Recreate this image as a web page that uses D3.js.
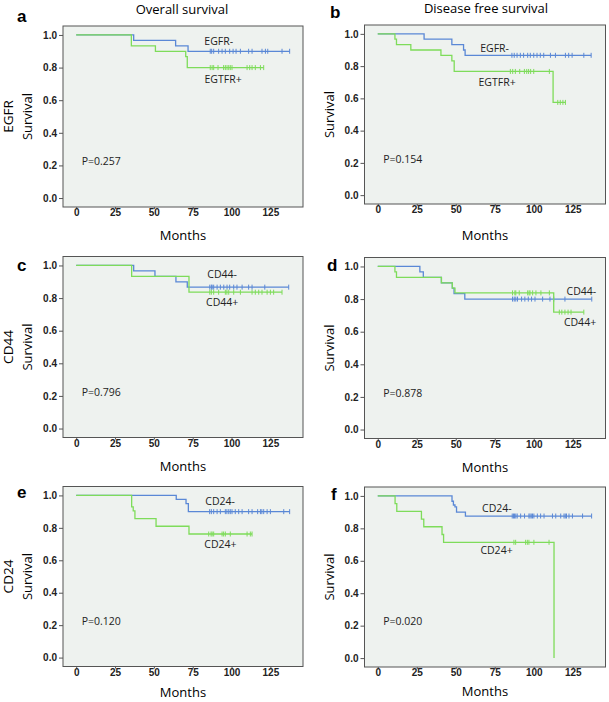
<!DOCTYPE html>
<html>
<head>
<meta charset="utf-8">
<script src="https://cdn.jsdelivr.net/npm/d3@7"></script>
<style>
  body { margin: 0; background: #fff; }
  svg  { display: block; font-family: "Open Sans", sans-serif; }
</style>
</head>
<body>
<script>
/* ---- data ---------------------------------------------------------- */
const monthTicks   = [0, 25, 50, 75, 100, 125];
const survTicks    = [0, 0.2, 0.4, 0.6, 0.8, 1.0];
const panelLetters = ["a", "b", "c", "d", "e", "f"];
const columnTitles = ["Overall survival", "Disease free survival"];
const markerNames  = ["EGFR", "CD44", "CD24"];
const pValues      = ["P=0.257", "P=0.154", "P=0.796", "P=0.878", "P=0.120", "P=0.020"];
const negLabels    = ["EGFR-", "EGFR-", "CD44-", "CD44-", "CD24-", "CD24-"];
const posLabels    = ["EGTFR+", "EGTFR+", "CD44+", "CD44+", "CD24+", "CD24+"];

// [month, survival after drop]
const osEgfrNegSteps  = [[37, 0.967], [64, 0.933], [72, 0.90]];
const osEgfrNegCens   = [86.3, 87.2, 88.5, 91.7, 93.9, 96, 98.8, 101, 102.9, 105.7, 111, 113.2, 119.6, 121.8, 123.3, 132.5, 137.4];
const osEgfrPosSteps  = [[35.5, 0.933], [51, 0.90], [70.5, 0.867], [71.5, 0.80]];
const osEgfrPosCens   = [86.3, 87.5, 88.5, 91.3, 94.9, 96, 97.1, 98.2, 99.2, 100.3, 110, 111.7, 113.2, 115.3, 118.6, 120.7];

const dfsEgfrNegSteps = [[29.7, 0.967], [47.5, 0.933], [55, 0.90], [56, 0.867]];
const dfsEgfrNegCens  = [86, 87.5, 89.3, 91.4, 93.5, 96.1, 97.8, 100, 102.1, 104.2, 106.4, 110.7, 113.9, 120.3, 122.4, 124.6, 132.1, 136.8];
const dfsEgfrPosSteps = [[11, 0.967], [12, 0.933], [21.2, 0.90], [40.5, 0.867], [47.5, 0.833], [49, 0.767], [112.4, 0.575]];
const dfsEgfrPosCens  = [85, 86.5, 88.2, 91, 94, 95.5, 96.7, 98, 100, 110, 115.4, 117, 118.7, 120.3];

const osCd44NegSteps  = [[37, 0.967], [50.7, 0.933], [64.2, 0.90], [71.5, 0.867]];
const osCd44NegCens   = [86, 87, 87.5, 88.5, 90.7, 92.8, 95, 97.1, 98.8, 101.4, 103.5, 106.8, 111, 113.2, 121.4, 136.8];
const osCd44PosSteps  = [[35.7, 0.933], [72.6, 0.836]];
const osCd44PosCens   = [86, 87, 88.5, 91.7, 96, 97, 98.2, 101.4, 105.7, 113.2, 115.3, 117.5, 119.6, 122.9, 125, 127.1, 132.5];

const dfsCd44NegSteps = [[27, 0.967], [29.2, 0.933], [40.8, 0.90], [47.8, 0.867], [48.9, 0.833], [55.8, 0.80]];
const dfsCd44NegCens  = [86.4, 87.5, 88.5, 89.6, 92.2, 94.3, 96.5, 98.6, 100.8, 105.7, 110.4, 112.8, 120, 137.2];
const dfsCd44PosSteps = [[11, 0.967], [12, 0.933], [40.8, 0.90], [47.8, 0.867], [49.5, 0.838], [112.8, 0.72]];
const dfsCd44PosCens  = [86.4, 87.9, 88.5, 90.7, 96.1, 97, 97.6, 99.3, 101.4, 104.6, 110, 116.4, 118, 120, 122, 123.9, 132.1];

const osCd24NegSteps  = [[64.4, 0.975], [70.7, 0.95], [72.2, 0.90]];
const osCd24NegCens   = [85.9, 87, 88.5, 90.7, 92.8, 96, 97, 98.2, 99.2, 100.3, 102.4, 104.6, 106.8, 111, 113.2, 116.8, 118.6, 119.5, 120.7, 122.9, 125, 133.6, 137.4];
const osCd24PosSteps  = [[35.7, 0.929], [36.7, 0.905], [37.8, 0.857], [51.4, 0.81], [72.6, 0.762]];
const osCd24PosCens   = [85.3, 86.8, 87.5, 88.5, 93.9, 94.9, 96, 99.2, 110, 112.1, 113.2];

const dfsCd24NegSteps = [[47.6, 0.967], [48.5, 0.944], [49.5, 0.933], [50.5, 0.90], [56.2, 0.876]];
const dfsCd24NegCens  = [86.2, 87, 87.7, 88.5, 89.4, 91.6, 94.1, 96.9, 97.6, 98.4, 99.2, 100.1, 102.3, 104.4, 106.6, 112, 114.1, 117.3, 119.4, 120.2, 121, 122.6, 124.8, 131.3, 137.1];
const dfsCd24PosSteps = [[11.1, 0.952], [12.2, 0.905], [28, 0.857], [29.5, 0.81], [41.2, 0.762], [42.2, 0.714], [113, 0]];
const dfsCd24PosCens  = [87.3, 88.4, 94.8, 95.9, 96.9, 100.1, 109.8];

const panelSeries = [
  [[osEgfrNegSteps,  osEgfrNegCens],  [osEgfrPosSteps,  osEgfrPosCens]],
  [[dfsEgfrNegSteps, dfsEgfrNegCens], [dfsEgfrPosSteps, dfsEgfrPosCens]],
  [[osCd44NegSteps,  osCd44NegCens],  [osCd44PosSteps,  osCd44PosCens]],
  [[dfsCd44NegSteps, dfsCd44NegCens], [dfsCd44PosSteps, dfsCd44PosCens]],
  [[osCd24NegSteps,  osCd24NegCens],  [osCd24PosSteps,  osCd24PosCens]],
  [[dfsCd24NegSteps, dfsCd24NegCens], [dfsCd24PosSteps, dfsCd24PosCens]]
];

/* ---- layout --------------------------------------------------------- */
const W = 609, H = 702;
const BLUE = "#5a88d6", GREEN = "#7edc5a", BG = "#eef2ef", BORDER = "#555";
const TICK_FONT = "'Liberation Sans', Arial, sans-serif";

const boxes = [
  { x: 63,    y: 26,    w: 240, h: 181 },
  { x: 364.5, y: 25,    w: 241, h: 179 },
  { x: 63,    y: 256.5, w: 240, h: 181 },
  { x: 364.5, y: 257.5, w: 241, h: 181 },
  { x: 63,    y: 486.5, w: 240, h: 180 },
  { x: 364.5, y: 487,   w: 241, h: 180 }
];
const monthsGap = [33, 36, 33, 33, 30, 29];
// group-label spots in data units [month, survival, anchor]
const labelSpots = [
  { neg: [82.5, 0.96, "start"],  pos: [82.6, 0.73, "start"] },
  { neg: [65.7, 0.913, "start"], pos: [64.6, 0.70, "start"] },
  { neg: [84.4, 0.943, "start"], pos: [83.6, 0.773, "start"] },
  { neg: [140, 0.845, "end"],    pos: [140, 0.66, "end"] },
  { neg: [83.1, 0.965, "start"], pos: [82.5, 0.70, "start"] },
  { neg: [66.9, 0.924, "start"], pos: [65.8, 0.666, "start"] }
];
const letterSpots = [[17, 22], [330, 18], [17, 271], [327, 271], [17, 498], [331, 500]];

const svg = d3.select("body").append("svg")
  .attr("width", W).attr("height", H);

/* ---- column titles -------------------------------------------------- */
svg.append("text").attr("x", 182).attr("y", 14)
  .attr("text-anchor", "middle").attr("font-size", 13).text(columnTitles[0]);
svg.append("text").attr("x", 486).attr("y", 13)
  .attr("text-anchor", "middle").attr("font-size", 13).text(columnTitles[1]);

function survAt(steps, t) {
  let s = 1;
  for (const [m, v] of steps) if (m <= t) s = v;
  return s;
}

boxes.forEach((b, i) => {
  const g = svg.append("g").attr("transform", `translate(${b.x},${b.y})`);
  const x = d3.scaleLinear([-8.5, 146], [0, b.w]);
  const y = d3.scaleLinear([-0.055, 1.055], [b.h, 0]);

  g.append("rect")
    .attr("width", b.w).attr("height", b.h)
    .attr("fill", BG).attr("stroke", BORDER).attr("stroke-width", 1);

  /* axes */
  const ya = g.append("g")
    .call(d3.axisLeft(y).tickValues(survTicks).tickFormat(d3.format(".1f"))
      .tickSize(4).tickPadding(2));
  const xa = g.append("g").attr("transform", `translate(0,${b.h})`)
    .call(d3.axisBottom(x).tickValues(monthTicks).tickSize(2).tickPadding(0));
  [ya, xa].forEach(a => {
    a.select(".domain").remove();
    a.selectAll("line").attr("stroke", BORDER);
    a.selectAll("text")
      .attr("font-family", TICK_FONT).attr("font-weight", "bold")
      .attr("font-size", 10).attr("fill", "#222");
  });

  /* curves */
  const line = d3.line().x(d => x(d[0])).y(d => y(d[1])).curve(d3.curveStepAfter);
  panelSeries[i].forEach(([steps, cens], k) => {
    const colour = k === 0 ? BLUE : GREEN;
    const end = Math.max(d3.max(cens), steps[steps.length - 1][0]);
    const pts = [[0, 1], ...steps, [end, survAt(steps, end)]];
    g.append("path").datum(pts)
      .attr("fill", "none").attr("stroke", colour).attr("stroke-width", 1.3)
      .attr("d", line);
    g.append("g").selectAll("line").data(cens).join("line")
      .attr("x1", d => x(d)).attr("x2", d => x(d))
      .attr("y1", d => y(survAt(steps, d)) - 2.5)
      .attr("y2", d => y(survAt(steps, d)) + 2.5)
      .attr("stroke", colour).attr("stroke-width", 1);
  });

  /* group labels */
  const spot = labelSpots[i];
  [[spot.neg, negLabels[i]], [spot.pos, posLabels[i]]].forEach(([p, txt]) => {
    g.append("text")
      .attr("x", x(p[0])).attr("y", y(p[1])).attr("dy", "0.35em")
      .attr("text-anchor", p[2]).attr("font-size", 10.5).attr("fill", "#222")
      .text(txt);
  });

  /* p value */
  g.append("text")
    .attr("x", x(3.5)).attr("y", y(0.225)).attr("dy", "0.35em")
    .attr("font-size", 10.5).attr("fill", "#222").text(pValues[i]);

  /* axis titles */
  g.append("text")
    .attr("x", b.w / 2).attr("y", b.h + monthsGap[i])
    .attr("text-anchor", "middle").attr("font-size", 13).text("Months");
  g.append("text")
    .attr("transform", `translate(-35.5,${b.h / 2}) rotate(-90)`)
    .attr("dy", "0.35em").attr("text-anchor", "middle")
    .attr("font-size", 13).text("Survival");

  /* panel letter */
  svg.append("text")
    .attr("x", letterSpots[i][0]).attr("y", letterSpots[i][1])
    .attr("font-family", TICK_FONT).attr("font-weight", "bold")
    .attr("font-size", 17).text(panelLetters[i]);

  /* row marker */
  if (i % 2 === 0) {
    svg.append("text")
      .attr("transform", `translate(8.5,${b.y + b.h / 2}) rotate(-90)`)
      .attr("dy", "0.35em").attr("text-anchor", "middle")
      .attr("font-size", 13.5).text(markerNames[i / 2]);
  }
});
</script>
</body>
</html>
